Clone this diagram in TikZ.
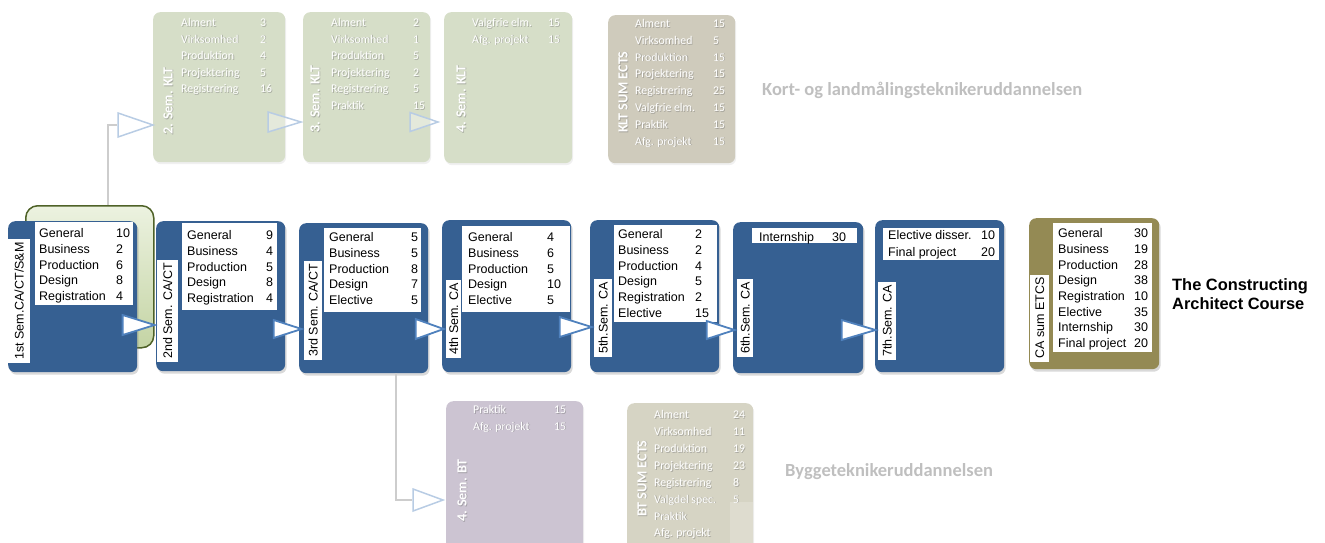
\documentclass[tikz,border=0pt]{standalone}
\usepackage{fontspec}
\setmainfont{Liberation Sans}
\newfontfamily\calfont{Carlito}
\usetikzlibrary{shapes.geometric,shadows}
\definecolor{boxblue}{RGB}{54,96,146}
\definecolor{triblue}{RGB}{79,129,189}
\definecolor{trilight}{RGB}{184,204,228}
\definecolor{conngray}{RGB}{205,205,205}
\definecolor{caolive}{RGB}{148,138,84}
\definecolor{kltgreen}{RGB}{214,222,200}
\definecolor{kltsum}{RGB}{207,203,188}
\definecolor{btpurple}{RGB}{204,196,210}
\definecolor{btsum}{RGB}{214,212,196}
\definecolor{headgray}{RGB}{191,191,191}
\definecolor{bglight}{RGB}{236,242,224}
\definecolor{bgdark}{RGB}{196,212,164}
\definecolor{bgborder}{RGB}{79,98,40}
\newcommand\rbox[6]{\node[#1, minimum width=#5-#3, minimum height=#6-#4] (#2) at (#3,#4) {};}
\newcommand\mtab[5]{\node[ttxt] (#1) at (#2,#3) {\begin{tabular}{@{}p{#4pt}@{}l@{}}#5\end{tabular}};}
\newcommand\ktab[5]{\node[ktxt, text=black!55, text opacity=0.45] (#1s) at (#2+0.8,#3+0.8) {\begin{tabular}{@{}p{#4pt}@{}l@{}}#5\end{tabular}};
  \node[ktxt] (#1) at (#2,#3) {\begin{tabular}{@{}p{#4pt}@{}l@{}}#5\end{tabular}};}
\newcommand\klab[4]{\node[klabel, text=black!55, text opacity=0.45] (#1s) at (#2+0.8,#3+0.8) {#4};
  \node[klabel] (#1) at (#2,#3) {#4};}
\begin{document}
\begin{tikzpicture}[x=1pt,y=-1pt,
  bluebox/.style={fill=boxblue, rounded corners=7pt, inner sep=0, anchor=north west,
    drop shadow={shadow xshift=1.5pt, shadow yshift=-2.5pt, opacity=0.3}},
  olivebox/.style={bluebox, fill=caolive},
  kbox/.style={fill=kltgreen, rounded corners=7pt, inner sep=0, anchor=north west,
    drop shadow={shadow xshift=1pt, shadow yshift=-2pt, opacity=0.12}},
  ksumbox/.style={kbox, fill=kltsum},
  btbox/.style={kbox, fill=btpurple},
  btsumbox/.style={kbox, fill=btsum},
  tblbox/.style={fill=white, inner sep=0, anchor=north west},
  ttxt/.style={anchor=north west, inner sep=0, font=\fontsize{12.5}{15.7}\selectfont},
  ktxt/.style={anchor=north west, inner sep=0, text=white, font=\calfont\fontsize{11.8}{16.6}\selectfont},
  klabel/.style={rotate=90, anchor=west, inner sep=0, text=white, font=\calfont\bfseries\fontsize{14}{16}\selectfont},
  vlab/.style={rotate=90, fill=white, anchor=north west, inner xsep=3pt, inner ysep=0pt,
    minimum height=18, font=\fontsize{12.5}{14}\selectfont},
  tri/.style={isosceles triangle, isosceles triangle stretches, shape border rotate=0,
    draw=triblue, fill=white, line width=1.8pt, inner sep=0, anchor=apex,
    minimum width=20, minimum height=32},
  ktri/.style={tri, draw=trilight, fill=white, fill opacity=0.35, line width=1.5pt},
  conn/.style={draw=conngray, line width=1.6pt},
  head/.style={anchor=west, inner sep=0, text=headgray, font=\calfont\bfseries\fontsize{18.5}{20}\selectfont}
]
\useasboundingbox (0,0) rectangle (1325,542);
\clip (0,0) rectangle (1325,542);

% ---------- top row (KLT) ----------
\rbox{kbox}{k2}{153}{12}{285}{162}
\rbox{kbox}{k3}{303}{12}{430}{162}
\rbox{kbox}{k4}{444}{12}{572}{163}
\rbox{ksumbox}{ks}{608}{15}{735}{163}
\ktab{k2t}{181}{14.6}{79}{Alment & 3\\ Virksomhed & 2\\ Produktion & 4\\ Projektering & 5\\ Registrering & 16}
\ktab{k3t}{331}{14.6}{82}{Alment & 2\\ Virksomhed & 1\\ Produktion & 5\\ Projektering & 2\\ Registrering & 5\\ Praktik & 15}
\ktab{k4t}{472}{14.6}{76}{Valgfrie elm. & 15\\ Afg. projekt & 15}
\node[ktxt, text=black!55, text opacity=0.45] (kst-s) at (635.8,16.4) {\fontsize{11.8}{16.8}\selectfont\begin{tabular}{@{}p{78pt}@{}l@{}}Alment & 15\\ Virksomhed & 5\\ Produktion & 15\\ Projektering & 15\\ Registrering & 25\\ Valgfrie elm. & 15\\ Praktik & 15\\ Afg. projekt & 15\end{tabular}};
\node[ktxt] (kst) at (635,15.6) {\fontsize{11.8}{16.8}\selectfont\begin{tabular}{@{}p{78pt}@{}l@{}}Alment & 15\\ Virksomhed & 5\\ Produktion & 15\\ Projektering & 15\\ Registrering & 25\\ Valgfrie elm. & 15\\ Praktik & 15\\ Afg. projekt & 15\end{tabular}};
\klab{k2l}{168}{135}{2. Sem. KLT}
\klab{k3l}{315}{133}{3. Sem. KLT}
\klab{k4l}{461}{133}{4. Sem. KLT}
\klab{ksl}{623}{133}{KLT SUM ECTS}
\node[head] (khead) at (762,90) {Kort- og landmålingsteknikeruddannelsen};

% ---------- middle row (CA) ----------
\node[anchor=north west, minimum width=128, minimum height=142, rounded corners=12pt,
  top color=bglight, bottom color=bgdark, draw=bgborder, line width=1.5pt] (bg) at (25,205) {};
\rbox{bluebox}{b1}{8}{221}{137}{372}
\rbox{bluebox}{b2}{156}{221}{285}{371}
\rbox{bluebox}{b3}{299}{223}{428}{373}
\rbox{bluebox}{b4}{442}{220}{571}{372}
\rbox{bluebox}{b5}{590}{220}{719}{372}
\rbox{bluebox}{b6}{733}{222}{863}{373}
\rbox{bluebox}{b7}{875}{220}{1004}{372}
\rbox{olivebox}{ca}{1029}{218}{1159}{369}

\rbox{tblbox}{w1}{35}{222}{133}{305}
\rbox{tblbox}{w2}{182}{223}{277}{310}
\rbox{tblbox}{w3}{324}{228}{421}{312}
\rbox{tblbox}{w4}{462}{226}{570}{312}
\rbox{tblbox}{w5}{614}{225}{717}{322}
\rbox{tblbox}{w6}{752}{228}{857}{243}
\rbox{tblbox}{w7}{883}{228}{999}{260}
\rbox{tblbox}{wc}{1053}{223}{1152}{352}

\mtab{m1}{39}{226.5}{77}{General & 10\\ Business & 2\\ Production & 6\\ Design & 8\\ Registration & 4}
\mtab{m2}{187}{228.5}{79}{General & 9\\ Business & 4\\ Production & 5\\ Design & 8\\ Registration & 4}
\mtab{m3}{329}{230.5}{82}{General & 5\\ Business & 5\\ Production & 8\\ Design & 7\\ Elective & 5}
\mtab{m4}{468}{230.5}{79}{General & 4\\ Business & 6\\ Production & 5\\ Design & 10\\ Elective & 5}
\mtab{m5}{618}{227.5}{77}{General & 2\\ Business & 2\\ Production & 4\\ Design & 5\\ Registration & 2\\ Elective & 15}
\mtab{m6}{759}{230.5}{73}{Internship & 30}
\mtab{m7}{888}{228.5}{93}{Elective disser. & 10\\[1pt] Final project & 20}
\mtab{mc}{1058}{226.5}{76}{General & 30\\ Business & 19\\ Production & 28\\ Design & 38\\ Registration & 10\\ Elective & 35\\ Internship & 30\\ Final project & 20}

\node[vlab, minimum height=22] (l1) at (8,363) {1st Sem.CA/CT/S\&M};
\node[vlab, minimum height=21] (l2) at (157,362) {2nd Sem. CA/CT};
\node[vlab] (l3) at (304,360) {3rd Sem. CA/CT};
\node[vlab, minimum height=15] (l4) at (446,358) {4th Sem. CA};
\node[vlab] (l5) at (594,357) {5th.Sem. CA};
\node[vlab, minimum height=16] (l6) at (737,357) {6th.Sem. CA};
\node[vlab] (l7) at (878,360) {7th.Sem. CA};
\node[vlab, minimum height=19] (lc) at (1030,362) {CA sum ETCS};

\node[anchor=north west, inner sep=0, align=left, font=\bfseries\fontsize{16.4}{19}\selectfont] (title) at (1172,278) {The Constructing\\Architect Course};

% arrows between semesters
\node[tri] (t1) at (l2.north east |- 0,325) {};
\node[tri, minimum height=28, minimum width=18] (t2) at (l3.north east |- 0,329) {};
\node[tri, minimum height=28, minimum width=20] (t3) at (l4.north east |- 0,329) {};
\node[tri] (t4) at (l5.north east |- 0,327) {};
\node[tri, minimum height=28, minimum width=18] (t5) at (l6.north east |- 0,330) {};
\node[tri, minimum height=34] (t6) at (l7.north east |- 0,330) {};

% ---------- bottom row (BT) ----------
\rbox{btbox}{bt}{446}{401}{583}{551}
\rbox{btsumbox}{bs}{627}{403}{753}{553}
\node[fill=white, fill opacity=0.2, inner sep=0, anchor=north west, minimum width=23, minimum height=45] (bsx) at (730,502) {};
\ktab{btt}{473}{401.6}{81}{Praktik & 15\\ Afg. projekt & 15}
\node[ktxt, text=black!55, text opacity=0.45] (bst-s) at (654.8,407.4) {\fontsize{11.8}{16.9}\selectfont\begin{tabular}{@{}p{79pt}@{}l@{}}Alment & 24\\ Virksomhed & 11\\ Produktion & 19\\ Projektering & 23\\ Registrering & 8\\ Valgdel spec. & 5\\ Praktik & \\ Afg. projekt & \end{tabular}};
\node[ktxt] (bst) at (654,406.6) {\fontsize{11.8}{16.9}\selectfont\begin{tabular}{@{}p{79pt}@{}l@{}}Alment & 24\\ Virksomhed & 11\\ Produktion & 19\\ Projektering & 23\\ Registrering & 8\\ Valgdel spec. & 5\\ Praktik & \\ Afg. projekt & \end{tabular}};
\klab{btl}{462}{522}{4. Sem. BT}
\klab{bsl}{642}{517}{BT SUM ECTS}
\node[head] (bhead) at (785,472) {Byggeteknikeruddannelsen};

% KLT arrows
\node[ktri, minimum height=35, minimum width=24] (ta) at (155,125) {};
\node[ktri, minimum height=33, minimum width=20] (tb) at (303,122) {};
\node[ktri, minimum height=28, minimum width=19] (tc) at (440,122) {};
\node[ktri, minimum height=30, minimum width=22] (td) at (445,500) {};

% connectors
\coordinate (c1) at (108,205);
\coordinate (c2) at (396,373);
\draw[conn] (c1) |- (ta.west);
\draw[conn] (c2) |- (td.west);
\end{tikzpicture}
\end{document}
